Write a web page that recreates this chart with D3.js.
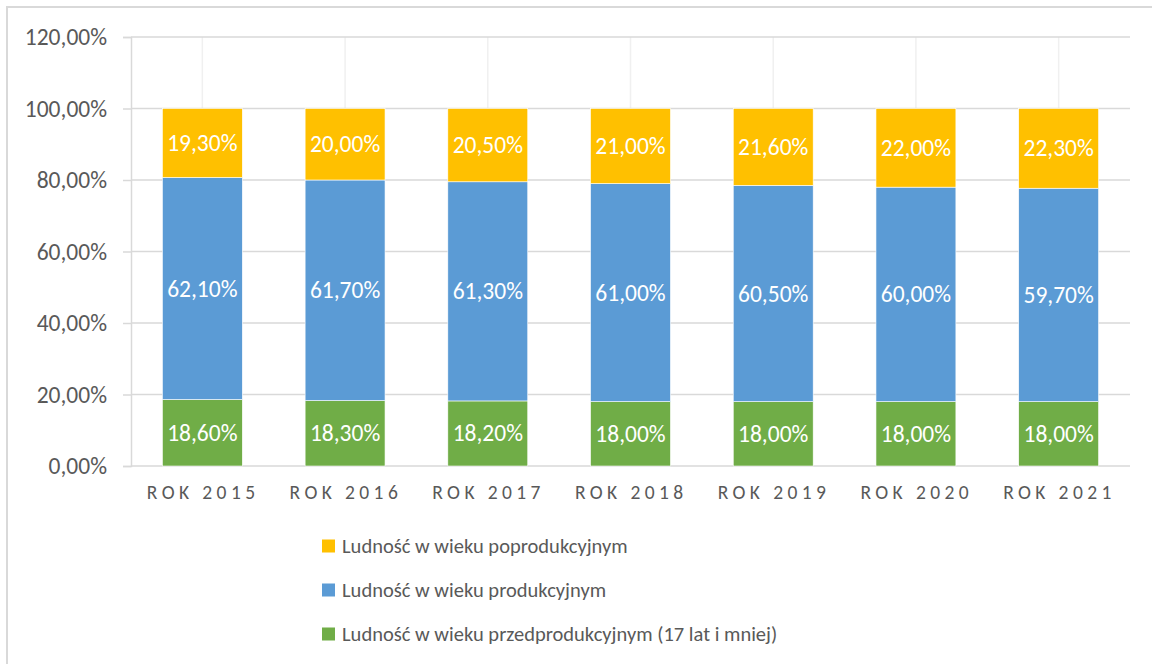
<!DOCTYPE html>
<html><head><meta charset="utf-8">
<script src="https://cdn.jsdelivr.net/npm/d3@7"></script>
<style>
html,body{margin:0;padding:0;background:#fff;}
svg{display:block;font-family:Carlito,Calibri,Lato,sans-serif;}
</style></head>
<body>
<svg id="c" width="1152" height="664"></svg>
<script>
const categories = ["ROK 2015","ROK 2016","ROK 2017","ROK 2018","ROK 2019","ROK 2020","ROK 2021"];
const preProd = [18.6,18.3,18.2,18.0,18.0,18.0,18.0];
const prod = [62.1,61.7,61.3,61.0,60.5,60.0,59.7];
const postProd = [19.3,20.0,20.5,21.0,21.6,22.0,22.3];
const yTicks = [0,20,40,60,80,100,120];
const seriesNames = ["Ludność w wieku przedprodukcyjnym (17 lat i mniej)","Ludność w wieku produkcyjnym","Ludność w wieku poprodukcyjnym"];
const colors = ["#70AD47","#5B9BD5","#FFC000"];

const svg = d3.select("#c");
svg.append("rect").attr("x",7).attr("y",7).attr("width",1300).attr("height",800)
  .attr("fill","none").attr("stroke","#d9d9d9").attr("stroke-width",2);

const x = d3.scaleBand().domain(categories).range([131,1130]).paddingInner(0.44).paddingOuter(0.22);
const y = d3.scaleLinear().domain([0,120]).range([466,37]);
const fmt = v => d3.format(".2f")(v).replace(".",",") + "%";

// vertical gridlines at category centers
svg.append("g").selectAll("line").data(categories).join("line")
  .attr("x1",d=>x(d)+x.bandwidth()/2).attr("x2",d=>x(d)+x.bandwidth()/2)
  .attr("y1",y(120)).attr("y2",y(0)).attr("stroke","#f0f0f0").attr("stroke-width",1.5);

// y axis
const yAxis = d3.axisLeft(y).tickValues(yTicks).tickSize(8).tickFormat(fmt);
const gy = svg.append("g").attr("transform","translate(131,0)").call(yAxis)
  .attr("font-family",null).attr("font-size",null);
gy.select(".domain").attr("stroke","#d9d9d9").attr("stroke-width",1.5);
gy.selectAll(".tick line").attr("stroke","#d9d9d9").attr("stroke-width",1.5);
gy.selectAll(".tick text").attr("fill","#595959").attr("font-size",23.5).attr("x",-24);
// horizontal gridlines
svg.append("g").selectAll("line").data(yTicks).join("line")
  .attr("x1",131).attr("x2",1130).attr("y1",d=>y(d)).attr("y2",d=>y(d))
  .attr("stroke","#d9d9d9").attr("stroke-width",1.5);

// stacked data
const table = categories.map((c,i)=>({cat:c, s0:preProd[i], s1:prod[i], s2:postProd[i]}));
const stack = d3.stack().keys(["s0","s1","s2"])(table);
const gBars = svg.append("g");
stack.forEach((layer,li)=>{
  const g = gBars.append("g");
  g.selectAll("rect").data(layer).join("rect")
    .attr("x",d=>x(d.data.cat)).attr("width",x.bandwidth())
    .attr("y",d=>y(Math.min(d[1],100))).attr("height",d=>y(d[0])-y(Math.min(d[1],100)))
    .attr("fill",colors[li]).attr("stroke","#fff").attr("stroke-width",0.6);
  g.selectAll("text").data(layer).join("text")
    .attr("x",d=>x(d.data.cat)+x.bandwidth()/2)
    .attr("y",d=>(y(d[0])+y(Math.min(d[1],100)))/2)
    .attr("text-anchor","middle").attr("dominant-baseline","central")
    .attr("fill","#fff").attr("font-size",23.5)
    .text(d=>fmt(d[1]-d[0]));
});

// x axis labels
const xAxis = d3.axisBottom(x).tickSize(0);
const gx = svg.append("g").attr("transform","translate(0,466)").call(xAxis)
  .attr("font-family",null).attr("font-size",null);
gx.select(".domain").remove();
gx.selectAll(".tick text").attr("fill","#595959").attr("font-size",19.5)
  .attr("letter-spacing","4.4px").attr("dx","0.8px").attr("dy",0).attr("y",33);

// legend
const legendOrder = [2,1,0];
const lg = svg.append("g");
legendOrder.forEach((si,k)=>{
  const cy = 546 + k*44;
  lg.append("rect").attr("x",322).attr("y",cy-6.5).attr("width",13).attr("height",13).attr("fill",colors[si]);
  lg.append("text").attr("x",342).attr("y",cy).attr("dominant-baseline","central")
    .attr("fill","#595959").attr("font-size",20.5).text(seriesNames[si]);
});
</script>
</body></html>
